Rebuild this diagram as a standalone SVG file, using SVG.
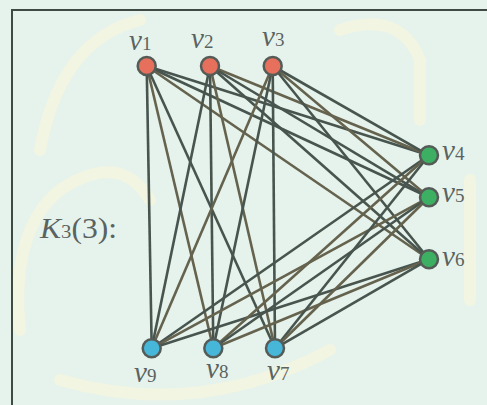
<svg xmlns="http://www.w3.org/2000/svg" width="487" height="405" viewBox="0 0 487 405">
<style>
.e{stroke:#48544e;stroke-width:2.6;fill:none}
.b{stroke:#65634e;stroke-width:2.6;fill:none}
.n{stroke:#555b57;stroke-width:2.5}
.r{fill:#e6705b}.g{fill:#3daf63}.u{fill:#46b6d9}
text{font-family:"Liberation Serif","DejaVu Serif",serif;fill:#5a6360}
.v{font-style:italic;font-size:29px}
.s{font-size:19px;font-style:normal}
.w{fill:none;stroke:#f8f6dc;stroke-width:12;stroke-linecap:round}
</style>
<rect width="487" height="405" fill="#e6f3ed"/>
<g opacity="0.7">
<path class="w" d="M40 150 Q60 40 140 20"/>
<path class="w" d="M20 330 Q10 230 60 190 Q120 150 150 200"/>
<path class="w" d="M60 380 Q200 420 330 350"/>
<path class="w" d="M340 30 Q400 10 420 60 L420 120"/>
<path class="w" d="M470 180 L470 300"/>
</g>
<rect x="12" y="10" width="490" height="410" fill="none" stroke="#3f4a44" stroke-width="2"/>
<g id="edges">
<line class="e" x1="146.7" y1="66" x2="151.7" y2="348.3"/>
<line class="b" x1="146.7" y1="66" x2="213.3" y2="348.3"/>
<line class="e" x1="146.7" y1="66" x2="275" y2="348.3"/>
<line class="e" x1="146.7" y1="66" x2="429" y2="155.3"/>
<line class="e" x1="146.7" y1="66" x2="429" y2="197.3"/>
<line class="b" x1="146.7" y1="66" x2="429" y2="259.3"/>
<line class="e" x1="210" y1="66" x2="151.7" y2="348.3"/>
<line class="e" x1="210" y1="66" x2="213.3" y2="348.3"/>
<line class="b" x1="210" y1="66" x2="275" y2="348.3"/>
<line class="b" x1="210" y1="66" x2="429" y2="155.3"/>
<line class="e" x1="210" y1="66" x2="429" y2="197.3"/>
<line class="e" x1="210" y1="66" x2="429" y2="259.3"/>
<line class="b" x1="272.7" y1="66" x2="151.7" y2="348.3"/>
<line class="e" x1="272.7" y1="66" x2="213.3" y2="348.3"/>
<line class="e" x1="272.7" y1="66" x2="275" y2="348.3"/>
<line class="e" x1="272.7" y1="66" x2="429" y2="155.3"/>
<line class="b" x1="272.7" y1="66" x2="429" y2="197.3"/>
<line class="e" x1="272.7" y1="66" x2="429" y2="259.3"/>
<line class="e" x1="151.7" y1="348.3" x2="429" y2="155.3"/>
<line class="b" x1="151.7" y1="348.3" x2="429" y2="197.3"/>
<line class="e" x1="151.7" y1="348.3" x2="429" y2="259.3"/>
<line class="b" x1="213.3" y1="348.3" x2="429" y2="155.3"/>
<line class="e" x1="213.3" y1="348.3" x2="429" y2="197.3"/>
<line class="b" x1="213.3" y1="348.3" x2="429" y2="259.3"/>
<line class="e" x1="275" y1="348.3" x2="429" y2="155.3"/>
<line class="e" x1="275" y1="348.3" x2="429" y2="259.3"/>
<line class="b" x1="275" y1="348.3" x2="429" y2="197.3"/>
</g>
<g id="v1"><circle class="n r" cx="146.7" cy="66" r="9"/><text class="v" x="129" y="50">v<tspan class="s">1</tspan></text></g>
<g id="v2"><circle class="n r" cx="210" cy="66" r="9"/><text class="v" x="191" y="48">v<tspan class="s">2</tspan></text></g>
<g id="v3"><circle class="n r" cx="272.7" cy="66" r="9"/><text class="v" x="262" y="46">v<tspan class="s">3</tspan></text></g>
<g id="v4"><circle class="n g" cx="429" cy="155.3" r="9"/><text class="v" x="442" y="160">v<tspan class="s">4</tspan></text></g>
<g id="v5"><circle class="n g" cx="429" cy="197.3" r="9"/><text class="v" x="442" y="202">v<tspan class="s">5</tspan></text></g>
<g id="v6"><circle class="n g" cx="429" cy="259.3" r="9"/><text class="v" x="442" y="266">v<tspan class="s">6</tspan></text></g>
<g id="v9"><circle class="n u" cx="151.7" cy="348.3" r="9"/><text class="v" x="134" y="382">v<tspan class="s">9</tspan></text></g>
<g id="v8"><circle class="n u" cx="213.3" cy="348.3" r="9"/><text class="v" x="206" y="378">v<tspan class="s">8</tspan></text></g>
<g id="v7"><circle class="n u" cx="275" cy="348.3" r="9"/><text class="v" x="267" y="380">v<tspan class="s">7</tspan></text></g>
<g id="label"><text x="40" y="238" font-size="29" textLength="77" lengthAdjust="spacingAndGlyphs"><tspan font-style="italic">K</tspan><tspan font-size="19">3</tspan>(3):</text></g>
</svg>
